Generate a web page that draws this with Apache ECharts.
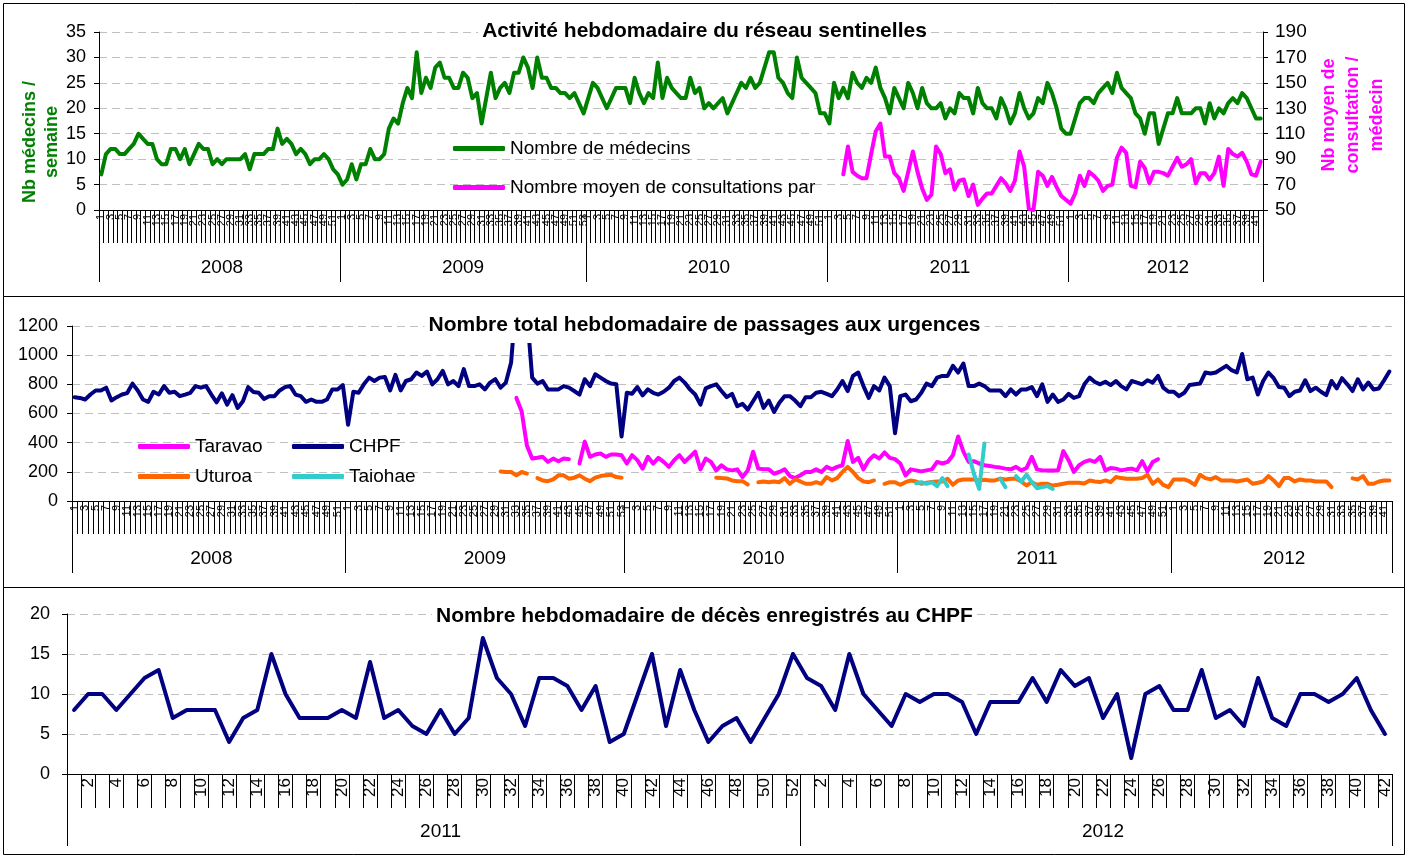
<!DOCTYPE html>
<html><head><meta charset="utf-8">
<script src="https://cdn.jsdelivr.net/npm/echarts@6/dist/echarts.min.js"></script>
<style>html,body{margin:0;padding:0;background:#fff}#c{width:1409px;height:856px}</style>
</head><body><div id="c"></div><script>
// ---------- categories ----------
const years1 = ['2008','2009','2010','2011','2012'];
const weeksPerYear1 = [52,53,52,52,42];
const years3 = ['2011','2012'];
const weeksPerYear3 = [52,42];

// ---------- panel 1 : réseau sentinelles ----------
const medecins2008 = [7,11,12,12,11,11,12,13,15,14,13,13,10,9,9,12,12,10,12,9,11,13,12,12,9,10,9,10,10,10,10,11,8,11,11,11,12,12,16,13,14,13,11,12,11,9,10,10,11,10,8,7];
const medecins2009 = [5,6,9,6,9,9,12,10,10,11,16,18,17,21,24,22,31,23,26,24,28,29,26,26,24,24,27,26,22,23,17,22,27,22,24,25,23,27,27,30,28,24,30,26,26,24,24,23,23,22,23,21,19];
const medecins2010 = [22,25,24,22,20,22,24,24,24,21,26,23,21,23,22,29,22,26,24,23,22,22,26,23,24,20,21,20,21,22,19,21,23,25,24,26,24,25,28,31,31,26,25,23,22,30,26,25,24,23,19,19];
const medecins2011 = [17,25,22,24,22,27,25,24,26,25,28,24,22,19,24,22,20,25,23,20,24,21,20,20,21,18,20,19,23,22,22,19,24,21,20,20,18,22,20,17,19,23,20,18,19,22,21,25,23,20,16,15];
const medecins2012 = [15,18,21,22,22,21,23,24,25,23,27,24,23,22,19,18,15,19,19,13,16,19,19,22,19,19,19,20,20,17,21,18,20,19,21,22,21,23,22,20,18,18];
const consultStartWeek2011 = 4;
const consult2011 = [78,100,80,77,75,75,94,112,118,92,92,79,75,65,80,96,80,67,58,62,100,94,79,82,66,73,74,61,70,54,59,63,63,69,75,71,65,73,96,84,51,50,80,77,69,76,68,61,58];
const consult2012 = [55,63,77,69,80,77,73,65,69,70,91,99,95,69,68,88,83,71,80,80,79,77,84,91,84,86,90,71,79,79,74,79,92,69,98,94,92,95,88,78,77,88];

// ---------- panel 2 : passages aux urgences ----------
const chpf2008 = [712,707,696,730,758,758,777,689,712,730,740,805,758,696,680,749,730,788,742,749,719,730,742,788,777,788,730,677,738,661,726,638,684,781,747,742,700,719,719,758,781,788,730,719,680,696,680,680,696,765,765,795];
const chpf2009 = [523,749,742,800,846,823,846,851,758,865,758,823,835,881,858,888,800,835,892,800,823,788,904,788,788,800,765,812,835,777,812,950,1400,1500,1300,846,805,823,765,765,765,788,777,754,730,835,788,869,846,823,805,800,442];
const chpf2010 = [742,735,781,724,765,742,730,749,777,823,846,812,765,730,661,772,788,800,754,712,735,650,666,627,684,742,638,689,610,673,719,719,689,650,712,712,742,749,735,719,765,823,754,858,881,788,707,788,758,846,788,465];
const chpf2011 = [719,730,684,696,742,805,788,846,858,858,927,881,943,788,788,805,788,758,758,758,719,765,730,765,765,781,719,800,680,730,680,696,735,707,719,800,846,816,800,818,795,823,788,765,823,812,800,828,812,858,777,749];
const chpf2012 = [749,719,742,795,800,805,881,874,881,904,927,897,881,1008,835,846,730,823,881,842,781,777,719,749,758,828,754,777,749,726,823,772,842,800,754,835,765,812,765,772,828,888];
const taravaoStartWeek2009 = 33;
const taravao2009 = [707,615,380,291,296,303,268,291,273,291,287,null,257,407,303,319,326,303,319,319,314];
const taravao2010 = [257,314,280,222,303,257,296,268,234,280,314,268,303,338,217,291,268,210,245,217,210,217,164,210,338,222,217,217,187,199,217,171,157,176,199,199,217,199,234,217,234,245,412,268,296,217,280,314,291,333,296,287];
const taravao2011 = [257,176,217,210,203,210,217,268,257,268,314,442,338,268,273,257,245,240,234,229,222,217,234,210,226,303,217,210,210,210,210,342,280,199,245,268,280,268,303,210,226,222,210,217,222,210,273,203,268,287];
const uturoaStartWeek2009 = 30;
const uturoa2009 = [203,199,199,176,199,188,null,157,141,136,148,176,176,153,160,176,153,136,160,171,176,180,164,160];
const uturoaStartWeek2010 = 18;
const uturoa2010 = [160,157,155,141,135,136,113,null,129,134,129,134,129,157,118,148,134,118,118,129,118,164,141,157,199,234,199,157,134,129,141,null,118,129,129];
const uturoa2011 = [111,129,141,134,118,125,130,134,134,153,111,141,148,148,148,141,145,141,141,153,148,153,153,134,106,129,111,118,118,106,111,118,125,125,125,120,141,134,130,141,129,164,157,153,153,153,157,180,118,148,111,95];
const uturoa2012 = [148,148,148,134,111,180,157,148,164,141,141,141,134,141,148,118,125,134,171,141,102,157,157,134,148,141,141,134,134,134,95,null,null,null,155,148,171,118,118,134,141,141];
const taiohaeStartWeek2011 = 4;
const taiohae2011 = [122,129,118,129,102,157,102,null,null,null,319,187,83,395,null,null,153,95,null,171,134,180,129,88,95,102,83];

// ---------- panel 3 : décès CHPF ----------
const deces2011 = [8,10,10,8,10,12,13,7,8,8,8,4,7,8,15,10,7,7,7,8,7,14,7,8,6,5,8,5,7,17,12,10,6,12,12,11,8,11,4,5,10,15,6,13,8,4,6,7,4,7,10,15];
const deces2012 = [12,11,8,15,10,8,6,10,9,10,10,9,5,9,9,9,12,9,13,11,12,7,10,2,10,11,8,8,13,7,8,6,12,7,6,10,10,9,10,12,8,5];

// ---------- helpers ----------
const FONT = '"Liberation Sans", Arial, Helvetica, sans-serif';
function buildCats(years, counts){ const a=[]; years.forEach((y,k)=>{for(let w=1;w<=counts[k];w++) a.push(y+'-'+w);}); return a; }
function place(n, startWeek, vals){ const a=new Array(n).fill(null); vals.forEach((v,k)=>{a[startWeek-1+k]=v;}); return a; }
const empty = n => new Array(n).fill(null);
function yearMarks(counts){ const starts=new Set(), mids=new Set(); let s=0; counts.forEach(n=>{starts.add(s); mids.add(s+Math.floor((n-1)/2)+(n%2===0?1:0)); s+=n;}); return {starts, mids}; }

const cats1 = buildCats(years1, weeksPerYear1);
const cats3 = buildCats(years3, weeksPerYear3);
const ym1 = yearMarks(weeksPerYear1);
const ym3 = yearMarks(weeksPerYear3);

const medecins = [...medecins2008,...medecins2009,...medecins2010,...medecins2011,...medecins2012];
const consult = [...empty(52+53+52), ...place(52,consultStartWeek2011,consult2011), ...consult2012];
const chpf = [...chpf2008,...chpf2009,...chpf2010,...chpf2011,...chpf2012];
const taravao = [...empty(52), ...place(53,taravaoStartWeek2009,taravao2009), ...taravao2010, ...place(52,1,taravao2011), ...empty(42)];
const uturoa = [...empty(52), ...place(53,uturoaStartWeek2009,uturoa2009), ...place(52,uturoaStartWeek2010,uturoa2010), ...uturoa2011, ...uturoa2012];
const taiohae = [...empty(52+53+52), ...place(52,taiohaeStartWeek2011,taiohae2011), ...empty(42)];
const deces = [...deces2011, ...deces2012];

const dash = {type:[8,5], color:'#c0c0c0', width:1};
const black = {color:'#000', width:1};

function weekAxis(grid, cats, show, fontSize, tickLen){
  return {type:'category', gridIndex:grid, data:cats, position:'bottom', boundaryGap:true,
    axisLine:{show:true, onZero:false, lineStyle:black},
    axisTick:{show:true, interval:0, length:tickLen, lineStyle:black},
    axisLabel:{interval:0, rotate:90, fontSize, fontFamily:FONT, color:'#000', margin:4,
      formatter: v => { const w = +v.split('-')[1]; return show(w) ? String(w) : ''; }},
    splitLine:{show:false}};
}
function yearAxis(grid, cats, ym){
  return {type:'category', gridIndex:grid, data:cats, position:'bottom', boundaryGap:true,
    axisLine:{show:false, onZero:false},
    axisTick:{show:true, length:72, interval:(i)=>ym.starts.has(i), lineStyle:black},
    axisLabel:{interval:(i)=>ym.mids.has(i), margin:48, fontSize:19, fontFamily:FONT, color:'#000',
      formatter: v => v.split('-')[0]},
    splitLine:{show:false}};
}
function valAxis(grid, min, max, interval, margin, fontSize, extra){
  return Object.assign({type:'value', gridIndex:grid, min, max, interval,
    axisLine:{show:true, lineStyle:black},
    axisTick:{show:true, length:5, lineStyle:black},
    axisLabel:{fontSize, fontFamily:FONT, color:'#000', margin, formatter: v => String(v)},
    splitLine:{show:true, lineStyle:dash}}, extra||{});
}
function lineSeries(name, x, y, data, color){
  return {name, type:'line', xAxisIndex:x, yAxisIndex:y, data, symbol:'none', connectNulls:false,
    lineStyle:{color, width:4, join:'round', cap:'round'}, itemStyle:{color}, z:2};
}
const consultName = 'Nombre moyen de consultations par médecin';
const titleStyle = {fontSize:21, fontWeight:'bold', fontFamily:FONT, color:'#000'};
const legendText = {fontSize:19, fontFamily:FONT, color:'#000'};

const option = {
  animation:false,
  backgroundColor:'#fff',
  textStyle:{fontFamily:FONT},
  title:[
    {text:'Activité hebdomadaire du réseau sentinelles', left:'center', top:19, padding:[2,4,2,4], backgroundColor:'#fff', textStyle:titleStyle},
    {text:'Nombre total hebdomadaire de passages aux urgences', left:'center', top:313, padding:[2,4,7,4], backgroundColor:'#fff', textStyle:titleStyle},
    {text:'Nombre hebdomadaire de décès enregistrés au CHPF', left:'center', top:604, padding:[2,4,2,4], backgroundColor:'#fff', textStyle:titleStyle}
  ],
  grid:[
    {left:99, top:32, width:1164, height:178},
    {left:72, top:326, width:1320, height:175},
    {left:67, top:614, width:1325, height:160}
  ],
  xAxis:[
    weekAxis(0, cats1, w=>w%2===1, 11, 33), yearAxis(0, cats1, ym1),
    weekAxis(1, cats1, w=>w%2===1, 11, 33), yearAxis(1, cats1, ym1),
    weekAxis(2, cats3, w=>w%2===0, 17, 34), yearAxis(2, cats3, ym3)
  ],
  yAxis:[
    valAxis(0, 0, 35, 5, 13, 18, {name:'Nb médecins /\nsemaine', nameLocation:'middle', nameRotate:90, nameGap:36, nameMoveOverlap:false,
      nameTextStyle:{color:'#008000', fontWeight:'bold', fontSize:18, fontFamily:FONT, padding:[0,42,0,0], lineHeight:22}}),
    valAxis(0, 50, 190, 20, 12, 19, {position:'right', splitLine:{show:false},
      name:'Nb moyen de\nconsultation /\nmédecin', nameLocation:'middle', nameRotate:90, nameGap:54, nameMoveOverlap:false,
      nameTextStyle:{color:'#FF00FF', fontWeight:'bold', fontSize:18, fontFamily:FONT, padding:[0,0,0,12], lineHeight:24}}),
    valAxis(1, 0, 1200, 200, 14, 18),
    valAxis(2, 0, 20, 5, 17, 18)
  ],
  legend:[
    {data:['Nombre de médecins', consultName], orient:'vertical', left:448, top:134, icon:'roundRect', itemWidth:52, itemHeight:5, itemGap:20,
      textStyle:legendText, formatter: n => n===consultName ? 'Nombre moyen de consultations par' : n, selectedMode:false},
    {data:['Taravao','Uturoa'], orient:'vertical', left:133, top:432, icon:'roundRect', itemWidth:52, itemHeight:5, itemGap:11, textStyle:legendText, selectedMode:false},
    {data:['CHPF','Taiohae'], orient:'vertical', left:287, top:432, icon:'roundRect', itemWidth:52, itemHeight:5, itemGap:11, textStyle:legendText, selectedMode:false}
  ],
  series:[
    lineSeries('Nombre de médecins', 0, 0, medecins, '#008000'),
    lineSeries(consultName, 0, 1, consult, '#FF00FF'),
    lineSeries('CHPF', 2, 2, chpf, '#000080'),
    lineSeries('Taravao', 2, 2, taravao, '#FF00FF'),
    lineSeries('Uturoa', 2, 2, uturoa, '#FF6600'),
    lineSeries('Taiohae', 2, 2, taiohae, '#33CCCC'),
    lineSeries('Décès CHPF', 4, 3, deces, '#000080')
  ],
  graphic:[
    {type:'rect', silent:true, shape:{x:3.5,y:3.5,width:1401,height:293}, style:{fill:'none', stroke:'#000', lineWidth:1}},
    {type:'rect', silent:true, shape:{x:3.5,y:296.5,width:1401,height:291}, style:{fill:'none', stroke:'#000', lineWidth:1}},
    {type:'rect', silent:true, shape:{x:3.5,y:587.5,width:1401,height:267}, style:{fill:'none', stroke:'#000', lineWidth:1}}
  ]
};
const chart = echarts.init(document.getElementById('c'), null, {renderer:'canvas'});
chart.setOption(option);
</script></body></html>
